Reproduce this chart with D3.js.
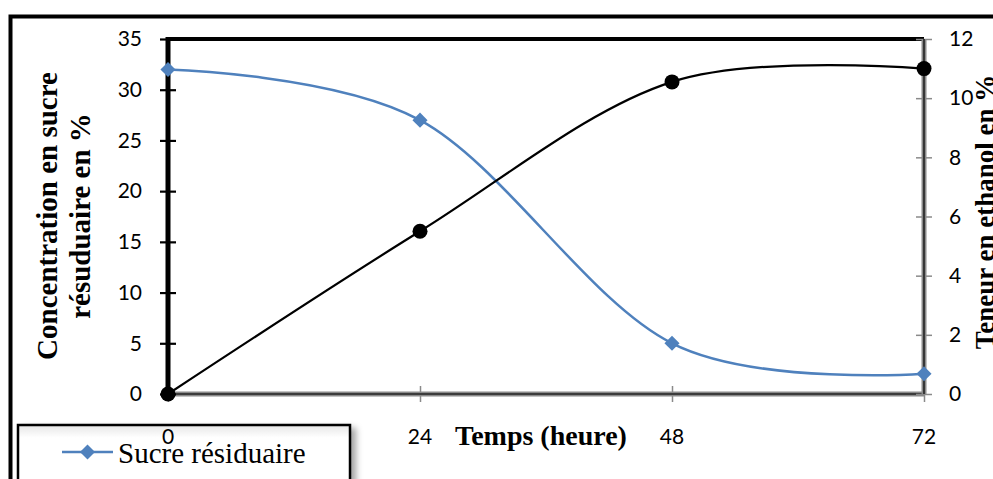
<!DOCTYPE html>
<html>
<head>
<meta charset="utf-8">
<script src="https://cdn.jsdelivr.net/npm/d3@7/dist/d3.min.js"></script>
<style>
  html, body { margin: 0; padding: 0; background: #fff; overflow: hidden; }
  svg { display: block; }
</style>
</head>
<body>
<svg id="chart" width="993" height="479"></svg>
<script>
// Fermentation kinetics: residual sugar vs. ethanol content over time
const hours = [0, 24, 48, 72];
const sucre = [32, 27, 5, 2];          // % residual sugar (left axis)
const ethanol = [0, 5.5, 10.55, 11];   // % ethanol (right axis)
const leftTicks = [0, 5, 10, 15, 20, 25, 30, 35];
const rightTicks = [0, 2, 4, 6, 8, 10, 12];
const xTicks = [0, 24, 48, 72];

const tickFont = "Lato, 'Open Sans', sans-serif";
const serif = "'Liberation Serif', 'Times New Roman', serif";

const svg = d3.select("#chart");
const W = 993, H = 479;
const plot = { left: 168, right: 924, top: 39, bottom: 394 };

const x = d3.scaleLinear().domain([0, 72]).range([plot.left, plot.right]);
const yL = d3.scaleLinear().domain([0, 35]).range([plot.bottom, plot.top]);
const yR = d3.scaleLinear().domain([0, 12]).range([plot.bottom, plot.top]);

// defs: soft shadow for the legend box
const defs = svg.append("defs");
const f = defs.append("filter").attr("id", "shadow")
  .attr("x", "-10%").attr("y", "-20%").attr("width", "130%").attr("height", "160%");
f.append("feDropShadow").attr("dx", 5).attr("dy", 4).attr("stdDeviation", 3)
  .attr("flood-color", "#000").attr("flood-opacity", 0.35);
const lgGrad = defs.append("linearGradient").attr("id", "lgfill")
  .attr("x1", 0).attr("y1", 0).attr("x2", 0).attr("y2", 1);
lgGrad.append("stop").attr("offset", "0%").attr("stop-color", "#e6e6e6");
lgGrad.append("stop").attr("offset", "18%").attr("stop-color", "#fff");
lgGrad.append("stop").attr("offset", "100%").attr("stop-color", "#fff");

// outer frame
svg.append("path")
  .attr("d", `M10.5,${H} V16.5 H${W}`)
  .attr("fill", "none").attr("stroke", "#000").attr("stroke-width", 4);

// top border of plot area
svg.append("line")
  .attr("x1", plot.left).attr("x2", plot.right)
  .attr("y1", plot.top).attr("y2", plot.top)
  .attr("stroke", "#000").attr("stroke-width", 4);

// bottom axis (gray double line)
const gx = svg.append("g").attr("transform", `translate(0,${plot.bottom})`)
  .call(d3.axisBottom(x).tickValues(xTicks).tickSize(8).tickFormat(""));
gx.select(".domain").remove();
gx.selectAll(".tick line").attr("y1", -8).attr("stroke", "#8a8a8a").attr("stroke-width", 1.5);
svg.append("line").attr("x1", plot.left).attr("x2", plot.right)
  .attr("y1", plot.bottom).attr("y2", plot.bottom)
  .attr("stroke", "#8a8a8a").attr("stroke-width", 5);
svg.append("line").attr("x1", plot.left).attr("x2", plot.right)
  .attr("y1", plot.bottom).attr("y2", plot.bottom)
  .attr("stroke", "#222").attr("stroke-width", 1.6);

// right axis (gray double line)
const gr = svg.append("g").attr("transform", `translate(${plot.right},0)`)
  .call(d3.axisRight(yR).tickValues(rightTicks).tickSize(8).tickPadding(17));
gr.select(".domain").remove();
gr.selectAll(".tick line").attr("x1", -8).attr("stroke", "#8a8a8a").attr("stroke-width", 1.5);
gr.selectAll(".tick text").attr("font-family", tickFont).attr("font-size", 21).attr("fill", "#000");
svg.append("line").attr("x1", plot.right).attr("x2", plot.right)
  .attr("y1", plot.top).attr("y2", plot.bottom)
  .attr("stroke", "#8a8a8a").attr("stroke-width", 5);
svg.append("line").attr("x1", plot.right).attr("x2", plot.right)
  .attr("y1", plot.top).attr("y2", plot.bottom)
  .attr("stroke", "#222").attr("stroke-width", 1.6);

// left axis (black, heavy)
const gl = svg.append("g").attr("transform", `translate(${plot.left},0)`)
  .call(d3.axisLeft(yL).tickValues(leftTicks).tickSize(8).tickPadding(18));
gl.select(".domain").remove();
gl.selectAll(".tick line").attr("x1", 8).attr("stroke", "#000").attr("stroke-width", 2.2);
gl.selectAll(".tick text").attr("font-family", tickFont).attr("font-size", 21).attr("fill", "#000");
svg.append("line").attr("x1", plot.left).attr("x2", plot.left)
  .attr("y1", plot.top - 2).attr("y2", plot.bottom + 2)
  .attr("stroke", "#000").attr("stroke-width", 5);

// series lines
const curve = d3.curveCardinal.tension(0);
const lineS = d3.line().x((d, i) => x(hours[i])).y(d => yL(d)).curve(curve);
const lineE = d3.line().x((d, i) => x(hours[i])).y(d => yR(d)).curve(curve);

svg.append("path").datum(sucre).attr("d", lineS)
  .attr("fill", "none").attr("stroke", "#4F81BD").attr("stroke-width", 2.5);
svg.append("path").datum(ethanol).attr("d", lineE)
  .attr("fill", "none").attr("stroke", "#000").attr("stroke-width", 2.2);

// markers
const diamond = d3.symbol().type(d3.symbolDiamond2).size(145);
svg.append("g").selectAll("path").data(sucre).join("path")
  .attr("d", diamond)
  .attr("transform", (d, i) => `translate(${x(hours[i])},${yL(d)})`)
  .attr("fill", "#4F81BD");
svg.append("g").selectAll("circle").data(ethanol).join("circle")
  .attr("cx", (d, i) => x(hours[i])).attr("cy", d => yR(d)).attr("r", 7.5)
  .attr("fill", "#000");

// legend
const lg = svg.append("g");
lg.append("rect").attr("x", 18).attr("y", 425).attr("width", 332).attr("height", 70)
  .attr("fill", "url(#lgfill)").attr("stroke", "#000").attr("stroke-width", 2.5)
  .attr("filter", "url(#shadow)");
lg.append("line").attr("x1", 62).attr("x2", 113).attr("y1", 452).attr("y2", 452)
  .attr("stroke", "#4F81BD").attr("stroke-width", 2.5);
lg.append("path").attr("d", diamond).attr("transform", "translate(87.5,452)")
  .attr("fill", "#4F81BD");
lg.append("text").attr("x", 118).attr("y", 463)
  .attr("font-family", serif).attr("font-size", 29).attr("fill", "#000")
  .text("Sucre résiduaire");

// x tick labels (drawn above the legend)
svg.append("g").selectAll("text").data(xTicks).join("text")
  .attr("x", d => x(d)).attr("y", 444)
  .attr("text-anchor", "middle")
  .attr("font-family", tickFont).attr("font-size", 21).attr("fill", "#000")
  .text(d => d);

// axis titles
svg.append("text").attr("x", 541).attr("y", 445)
  .attr("text-anchor", "middle").attr("font-family", serif)
  .attr("font-weight", "bold").attr("font-size", 28).attr("fill", "#000")
  .text("Temps (heure)");

const lt = svg.append("text")
  .attr("transform", "translate(57,216) rotate(-90)")
  .attr("text-anchor", "middle").attr("font-family", serif)
  .attr("font-weight", "bold").attr("font-size", 29).attr("fill", "#000");
lt.append("tspan").attr("x", 0).attr("y", 0).text("Concentration en sucre");
lt.append("tspan").attr("x", 0).attr("y", 33).text("résuduaire en %");

svg.append("text")
  .attr("transform", "translate(994,212) rotate(-90)")
  .attr("text-anchor", "middle").attr("font-family", serif)
  .attr("font-weight", "bold").attr("font-size", 27).attr("fill", "#000")
  .text("Teneur en ethanol en %");
</script>
</body>
</html>
